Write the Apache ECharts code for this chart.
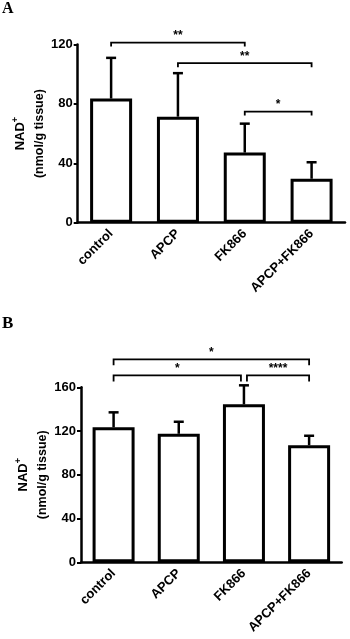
<!DOCTYPE html>
<html>
<head>
<meta charset="utf-8">
<script src="https://cdn.jsdelivr.net/npm/echarts@6/dist/echarts.min.js"></script>
<style>
html,body{margin:0;padding:0;background:#fff;}
#c{width:350px;height:639px;}
</style>
</head>
<body>
<div id="c"></div>
<script>
// ---- data ----
const categories = ['control', 'APCP', 'FK866', 'APCP+FK866'];
// Panel A
const meanA = [83.6, 71.4, 47.2, 29.6];
const errA = [27.4, 29.3, 19.5, 11.1];
const yTicksA = [0, 40, 80, 120];
const bracketsA = [[0, 2, 121.3], [1, 3, 107.4], [2, 3, 74.8]];
const starsA = ['**', '**', '*'];
// Panel B
const meanB = [123.4, 117.5, 144.4, 107.0];
const errB = [13.7, 11.0, 17.4, 8.7];
const yTicksB = [0, 40, 80, 120, 160];
const bracketsB = [[0, 3, 185.6], [0, 2, 170.9], [2, 3, 170.9]];
const starsB = ['*', '*', '****'];

const FONT = '"Liberation Sans", Arial, sans-serif';
const chart = echarts.init(document.getElementById('c'));

function errRender(params, api) {
  const x = api.value(0), m = api.value(1), e = api.value(2);
  const p0 = api.coord([x, m]);
  const p1 = api.coord([x, m + e]);
  const st = { stroke: '#000', lineWidth: 2.5 };
  return {
    type: 'group',
    children: [
      { type: 'line', shape: { x1: p0[0], y1: p0[1], x2: p1[0], y2: p1[1] }, style: st },
      { type: 'line', shape: { x1: p1[0] - 5, y1: p1[1], x2: p1[0] + 5, y2: p1[1] }, style: st }
    ]
  };
}

function makeBracketRender(brackets, stars, drop) {
  return function (params, api) {
    const i = params.dataIndex;
    const b = brackets[i];
    const pa = api.coord([b[0], b[2]]);
    const pb = api.coord([b[1], b[2]]);
    let xa = pa[0], xb = pb[0];
    // nudge shared endpoints at same level
    brackets.forEach((o, j) => {
      if (j === i || o[2] !== b[2]) return;
      if (o[1] === b[0]) xa += 3;
      if (o[0] === b[1]) xb -= 3;
    });
    const y = pa[1];
    const st = { stroke: '#000', lineWidth: 1.8, fill: null };
    return {
      type: 'group',
      children: [
        { type: 'polyline', shape: { points: [[xa, y + drop], [xa, y], [xb, y], [xb, y + drop]] }, style: st },
        { type: 'text', style: { text: stars[i], x: (xa + xb) / 2, y: y - 1, textAlign: 'center', textVerticalAlign: 'bottom', font: 'bold 12px ' + FONT, fill: '#000' } }
      ]
    };
  };
}

const axisLineStyle = { color: '#000', width: 2.5 };
function xAx(g) {
  return {
    type: 'category', gridIndex: g, data: categories,
    axisLine: { lineStyle: axisLineStyle },
    axisTick: { alignWithLabel: true, length: 5, lineStyle: { color: '#000', width: 2 } },
    axisLabel: { rotate: 45, interval: 0, color: '#000', fontWeight: 'bold', fontSize: 13, fontFamily: FONT, margin: 9 }
  };
}
function yAx(g, ticks) {
  return {
    type: 'value', gridIndex: g, min: ticks[0], max: ticks[ticks.length - 1], interval: ticks[1] - ticks[0],
    axisLine: { show: true, lineStyle: axisLineStyle },
    axisTick: { show: true, length: 4, lineStyle: { color: '#000', width: 2 } },
    splitLine: { show: false },
    axisLabel: { color: '#000', fontWeight: 'bold', fontSize: 13, fontFamily: FONT, margin: 5 },
    name: '{a|NAD}{s|+}\n{b|(nmol/g tissue)}',
    nameLocation: 'middle', nameRotate: 90, nameGap: 29, nameMoveOverlap: false,
    nameTextStyle: {
      color: '#000', fontFamily: FONT, align: 'center',
      rich: {
        a: { fontWeight: 'bold', fontSize: 13, fontFamily: FONT, color: '#000', lineHeight: 19 },
        s: { fontWeight: 'bold', fontSize: 9, fontFamily: FONT, color: '#000', verticalAlign: 'top', padding: [0, 0, 6, 0], lineHeight: 19 },
        b: { fontWeight: 'bold', fontSize: 12.5, fontFamily: FONT, color: '#000', lineHeight: 19 }
      }
    }
  };
}
function barS(g, vals) {
  return {
    type: 'bar', xAxisIndex: g, yAxisIndex: g, data: vals, barWidth: 42,
    itemStyle: { color: '#fff', borderColor: '#000', borderWidth: 3 }, silent: true, z: 2
  };
}
function errS(g, m, e) {
  return {
    type: 'custom', xAxisIndex: g, yAxisIndex: g, renderItem: errRender, z: 3, silent: true,
    data: m.map((v, i) => [i, v, e[i]])
  };
}
function brS(g, br, st, drop) {
  return {
    type: 'custom', xAxisIndex: g, yAxisIndex: g, renderItem: makeBracketRender(br, st, drop), z: 4, silent: true, clip: false,
    data: br.map(b => [b[0], b[2], b[1]])
  };
}

chart.setOption({
  animation: false,
  backgroundColor: '#fff',
  grid: [
    { left: 77.7, right: 5, top: 44.5, height: 178.2, containLabel: false, outerBoundsMode: 'none' },
    { left: 81, right: 8.3, top: 387.3, height: 175, containLabel: false, outerBoundsMode: 'none' }
  ],
  xAxis: [xAx(0), xAx(1)],
  yAxis: [yAx(0, yTicksA), yAx(1, yTicksB)],
  graphic: [
    { type: 'text', left: 2, top: 1, style: { text: 'A', font: 'bold 16px "Liberation Serif", "Times New Roman", serif', fill: '#000' } },
    { type: 'text', left: 2, top: 315, style: { text: 'B', font: 'bold 17px "Liberation Serif", "Times New Roman", serif', fill: '#000' } }
  ],
  series: [
    barS(0, meanA), errS(0, meanA, errA), brS(0, bracketsA, starsA, 4),
    barS(1, meanB), errS(1, meanB, errB), brS(1, bracketsB, starsB, 6)
  ]
});
</script>
</body>
</html>
